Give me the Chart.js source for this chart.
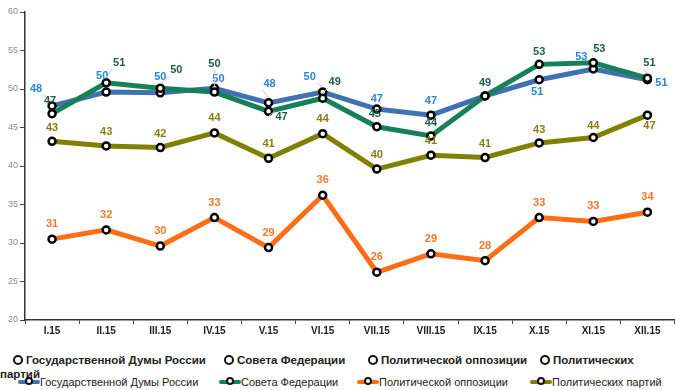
<!DOCTYPE html>
<html>
<head>
<meta charset="utf-8">
<script src="https://cdn.jsdelivr.net/npm/chart.js@4"></script>
<style>
html,body{margin:0;padding:0;background:#fff;}
#wrap{position:relative;width:675px;height:390px;overflow:hidden;background:#fff;font-family:"Liberation Sans",Arial,sans-serif;}
#cbox{position:absolute;left:0;top:0;width:681px;height:340px;}
.l1{position:absolute;top:354px;font-weight:bold;font-size:11.5px;color:#222;white-space:nowrap;}
.l1 .m{display:inline-block;width:6px;height:6px;border:2.5px solid #111;border-radius:50%;margin-right:3px;vertical-align:-1px;}
.l2{position:absolute;top:376px;font-size:11px;color:#222;white-space:nowrap;}
.l2 .s{display:inline-block;position:relative;width:22px;height:4px;border-radius:2px;vertical-align:2px;margin-right:0px;}
.l2 .s i{position:absolute;left:7px;top:-3px;width:4px;height:4px;border:2px solid #111;border-radius:50%;background:#fff;}
</style>
</head>
<body>
<div id="wrap">
  <div id="cbox"><canvas id="c"></canvas></div>
  <div id="leg1"></div>
  <div id="leg2"></div>
</div>
<script>
const categories = ['I.15','II.15','III.15','IV.15','V.15','VI.15','VII.15','VIII.15','IX.15','X.15','XI.15','XII.15'];
const seriesNames = ['Государственной Думы России','Совета Федерации','Политической оппозиции','Политических партий'];
const dumaValues       = [47.8, 49.6, 49.5, 50.1, 48.2, 49.6, 47.4, 46.6, 49.1, 51.2, 52.6, 51.2];
const sovetValues      = [46.8, 50.8, 50.1, 49.6, 47.1, 48.8, 45.1, 43.9, 49.1, 53.2, 53.4, 51.4];
const oppositionValues = [30.5, 31.7, 29.6, 33.3, 29.4, 36.2, 26.2, 28.6, 27.7, 33.3, 32.8, 34.0];
const partiesValues    = [43.2, 42.6, 42.4, 44.3, 41.0, 44.2, 39.6, 41.4, 41.1, 43.0, 43.7, 46.6];
const yTicks = [20, 25, 30, 35, 40, 45, 50, 55, 60];

const lineColors  = ['#4071b0', '#168058', '#ff6e14', '#828000'];
const labelColors = ['#2a86d6', '#1e5e48', '#f07a2a', '#8a7c14'];

// label offsets [dx, dy, leader]
const labelOffsets = [
  [[-16,-17,1],[-4,-16],[0,-16],[4,-9],[1,-19,1],[-13,-15,1],[0,-10],[0,-14],null,[-2,12],[-12,-12],[14,3]],
  [[-2,-13],[13,-20,1],[16,-18,1],[0,-28,1],[13,6,1],[12,-16,1],[-2,-13],[0,-13],[0,-13],[0,-12],[6,-14,1],[2,-15,1]],
  [[0,-15],[0,-15],[0,-15],[0,-15],[0,-15],[0,-15],[0,-15],[0,-15],[0,-15],[0,-15],[0,-15],[0,-15]],
  [[0,-13],[0,-14],[0,-14],[0,-15],[0,-14],[0,-15],[0,-14],[0,-14],[0,-14],[0,-13],[0,-12],[2,11]]
];

const seriesValues = [dumaValues, sovetValues, oppositionValues, partiesValues];
const orders = [1, 0, 3, 2];

const datasets = seriesValues.map((vals, i) => ({
  label: seriesNames[i],
  data: vals,
  borderColor: lineColors[i],
  backgroundColor: lineColors[i],
  borderWidth: 5,
  pointRadius: 3.5,
  pointBorderWidth: 2.5,
  pointBorderColor: '#000',
  pointBackgroundColor: '#fff',
  tension: 0,
  order: orders[i],
  labelOffsets: labelOffsets[i],
  labelColor: labelColors[i]
}));

const dataLabelPlugin = {
  id: 'dl',
  afterDatasetsDraw(chart) {
    const ctx = chart.ctx;
    ctx.save();
    ctx.font = 'bold 11px "Liberation Sans", Arial, sans-serif';
    ctx.textAlign = 'center';
    ctx.textBaseline = 'middle';
    chart.data.datasets.forEach((ds, i) => {
      const meta = chart.getDatasetMeta(i);
      meta.data.forEach((pt, j) => {
        const off = ds.labelOffsets[j];
        if (!off) return;
        const x = pt.x + off[0], y = pt.y + off[1];
        if (off[2]) {
          ctx.strokeStyle = '#c8c8c8';
          ctx.lineWidth = 1;
          ctx.beginPath();
          const ex = x - Math.sign(off[0]) * 7;
          const ey = y + Math.sign(-off[1]) * 6;
          ctx.moveTo(pt.x, pt.y + Math.sign(off[1]) * 5);
          ctx.lineTo(ex, ey);
          ctx.stroke();
        }
        ctx.fillStyle = ds.labelColor;
        ctx.fillText(String(Math.round(ds.data[j])), x, y);
      });
    });
    ctx.restore();
  }
};

new Chart(document.getElementById('c'), {
  type: 'line',
  data: { labels: categories, datasets: datasets },
  options: {
    responsive: true,
    maintainAspectRatio: false,
    animation: false,
    layout: { padding: { top: 12, left: 0, right: 0, bottom: 0 } },
    plugins: { legend: { display: false }, tooltip: { enabled: false } },
    scales: {
      x: {
        offset: true,
        grid: { display: true, offset: true, drawOnChartArea: false, drawTicks: true, tickLength: 4, color: '#444', lineWidth: 1 },
        border: { display: true, color: '#333', width: 1.5 },
        ticks: { color: '#222', font: { family: '"Liberation Sans", Arial, sans-serif', size: 10, weight: 'bold' }, padding: 1, maxRotation: 0, autoSkip: false },
        afterFit(scale) { scale.height = 20; }
      },
      y: {
        min: 20, max: 60,
        afterBuildTicks(scale) { scale.ticks = yTicks.map(v => ({ value: v })); },
        grid: { display: true, drawOnChartArea: false, drawTicks: true, tickLength: 5, color: '#444', lineWidth: 1 },
        border: { display: true, color: '#333', width: 1.5 },
        ticks: { color: '#8a8a8a', font: { family: '"Liberation Sans", Arial, sans-serif', size: 9 }, padding: 2 },
        afterFit(scale) { scale.width = 25; }
      }
    }
  },
  plugins: [dataLabelPlugin]
});

// legends (HTML text)
const leg1 = document.getElementById('leg1');
const leg1X = [13, 224, 368, 540];
seriesNames.forEach((n, i) => {
  const d = document.createElement('div');
  d.className = 'l1';
  d.style.left = leg1X[i] + 'px';
  const txt = i === 3 ? n.split(' ')[0] : n;
  d.innerHTML = '<span class="m"></span>' + txt;
  leg1.appendChild(d);
});
const wrapPart = document.createElement('div');
wrapPart.className = 'l1';
wrapPart.style.left = '0px';
wrapPart.style.top = '368px';
wrapPart.textContent = seriesNames[3].split(' ')[1];
leg1.appendChild(wrapPart);

const leg2 = document.getElementById('leg2');
const leg2X = [18, 219, 357, 530];
seriesNames.forEach((n, i) => {
  const d = document.createElement('div');
  d.className = 'l2';
  d.style.left = leg2X[i] + 'px';
  d.innerHTML = '<span class="s" style="background:' + lineColors[i] + '"><i></i></span>' + n;
  leg2.appendChild(d);
});
</script>
</body>
</html>
